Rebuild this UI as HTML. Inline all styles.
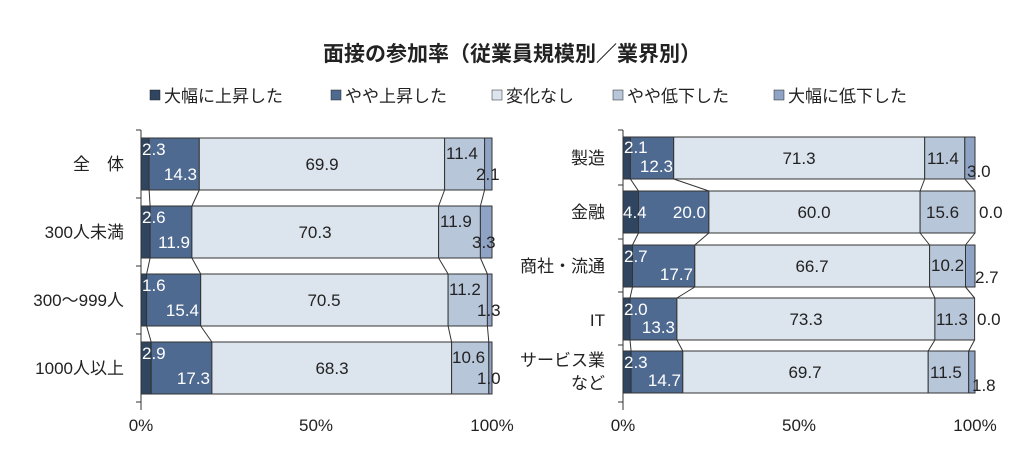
<!DOCTYPE html><html><head><meta charset="utf-8"><style>body{margin:0;background:#fff}svg{display:block}text{font-family:"Liberation Sans","Noto Sans CJK JP",sans-serif}</style></head><body>
<svg width="1024" height="458" xmlns="http://www.w3.org/2000/svg">
<text x="512" y="61" font-size="21" font-weight="bold" text-anchor="middle" fill="#222">面接の参加率（従業員規模別／業界別）</text>
<g font-size="17" fill="#222">
<rect x="150" y="90" width="10" height="10" fill="#2f4560" stroke="#222" stroke-width="0.5"/><text x="164" y="102">大幅に上昇した</text>
<rect x="331" y="90" width="10" height="10" fill="#4f6a91" stroke="#222" stroke-width="0.5"/><text x="345" y="102">やや上昇した</text>
<rect x="492" y="90" width="10" height="10" fill="#dce4ee" stroke="#222" stroke-width="0.5"/><text x="506" y="102">変化なし</text>
<rect x="613" y="90" width="10" height="10" fill="#b8c6da" stroke="#222" stroke-width="0.5"/><text x="627" y="102">やや低下した</text>
<rect x="774" y="90" width="10" height="10" fill="#8fa3c4" stroke="#222" stroke-width="0.5"/><text x="788" y="102">大幅に低下した</text>
</g>
<g stroke="#333" stroke-width="1">
<rect x="141" y="138" width="8.1" height="52" fill="#2f4560"/><rect x="149.1" y="138" width="50.2" height="52" fill="#4f6a91"/><rect x="199.3" y="138" width="245.3" height="52" fill="#dce4ee"/><rect x="444.6" y="138" width="40" height="52" fill="#b8c6da"/><rect x="484.6" y="138" width="7.4" height="52" fill="#8fa3c4"/>
<rect x="141" y="206" width="9.1" height="52" fill="#2f4560"/><rect x="150.1" y="206" width="41.8" height="52" fill="#4f6a91"/><rect x="191.9" y="206" width="246.7" height="52" fill="#dce4ee"/><rect x="438.6" y="206" width="41.8" height="52" fill="#b8c6da"/><rect x="480.4" y="206" width="11.6" height="52" fill="#8fa3c4"/>
<rect x="141" y="274" width="5.6" height="52" fill="#2f4560"/><rect x="146.6" y="274" width="54.1" height="52" fill="#4f6a91"/><rect x="200.7" y="274" width="247.4" height="52" fill="#dce4ee"/><rect x="448.1" y="274" width="39.3" height="52" fill="#b8c6da"/><rect x="487.4" y="274" width="4.6" height="52" fill="#8fa3c4"/>
<rect x="141" y="342" width="10.2" height="52" fill="#2f4560"/><rect x="151.2" y="342" width="60.7" height="52" fill="#4f6a91"/><rect x="211.9" y="342" width="239.7" height="52" fill="#dce4ee"/><rect x="451.6" y="342" width="37.2" height="52" fill="#b8c6da"/><rect x="488.8" y="342" width="3.2" height="52" fill="#8fa3c4"/>
<path fill="none" d="M149.1 190L150.1 206M199.3 190L191.9 206M444.6 190L438.6 206M484.6 190L480.4 206M150.1 258L146.6 274M191.9 258L200.7 274M438.6 258L448.1 274M480.4 258L487.4 274M146.6 326L151.2 342M200.7 326L211.9 342M448.1 326L451.6 342M487.4 326L488.8 342"/>
<path fill="none" d="M141 130V410M136 130H141M136 198H141M136 266H141M136 334H141M136 402H141M141 402V410"/>
<rect x="623" y="137" width="7.4" height="42" fill="#2f4560"/><rect x="630.4" y="137" width="43.3" height="42" fill="#4f6a91"/><rect x="673.7" y="137" width="251" height="42" fill="#dce4ee"/><rect x="924.7" y="137" width="40.1" height="42" fill="#b8c6da"/><rect x="964.8" y="137" width="10.2" height="42" fill="#8fa3c4"/>
<rect x="623" y="191" width="15.5" height="42" fill="#2f4560"/><rect x="638.5" y="191" width="70.4" height="42" fill="#4f6a91"/><rect x="708.9" y="191" width="211.2" height="42" fill="#dce4ee"/><rect x="920.1" y="191" width="54.9" height="42" fill="#b8c6da"/>
<rect x="623" y="245" width="9.5" height="42" fill="#2f4560"/><rect x="632.5" y="245" width="62.3" height="42" fill="#4f6a91"/><rect x="694.8" y="245" width="234.8" height="42" fill="#dce4ee"/><rect x="929.6" y="245" width="35.9" height="42" fill="#b8c6da"/><rect x="965.5" y="245" width="9.5" height="42" fill="#8fa3c4"/>
<rect x="623" y="298" width="7" height="42" fill="#2f4560"/><rect x="630" y="298" width="46.9" height="42" fill="#4f6a91"/><rect x="676.9" y="298" width="258" height="42" fill="#dce4ee"/><rect x="934.9" y="298" width="39.7" height="42" fill="#b8c6da"/>
<rect x="623" y="351" width="8.1" height="42" fill="#2f4560"/><rect x="631.1" y="351" width="51.7" height="42" fill="#4f6a91"/><rect x="682.8" y="351" width="245.4" height="42" fill="#dce4ee"/><rect x="928.2" y="351" width="40.5" height="42" fill="#b8c6da"/><rect x="968.7" y="351" width="6.3" height="42" fill="#8fa3c4"/>
<path fill="none" d="M630.4 179L638.5 191M673.7 179L708.9 191M924.7 179L920.1 191M964.8 179L975 191M638.5 233L632.5 245M708.9 233L694.8 245M920.1 233L929.6 245M975 233L965.5 245M632.5 287L630 298M694.8 287L676.9 298M929.6 287L934.9 298M965.5 287L974.6 298M630 340L631.1 351M676.9 340L682.8 351M934.9 340L928.2 351M974.6 340L968.7 351"/>
<path fill="none" d="M623 130V410M618 130H623M618 185H623M618 239H623M618 292H623M618 345H623M618 402H623"/>
</g>
<g font-size="17" fill="#fff">
<text x="142" y="155">2.3</text><text x="197" y="180" text-anchor="end">14.3</text>
<text x="142" y="223">2.6</text><text x="190" y="248" text-anchor="end">11.9</text>
<text x="142" y="291">1.6</text><text x="199" y="316" text-anchor="end">15.4</text>
<text x="142" y="359">2.9</text><text x="210" y="384" text-anchor="end">17.3</text>
<text x="624" y="153">2.1</text><text x="673" y="172" text-anchor="end">12.3</text>
<text x="623" y="218">4.4</text><text x="706" y="218" text-anchor="end">20.0</text>
<text x="624" y="262">2.7</text><text x="693" y="280" text-anchor="end">17.7</text>
<text x="624" y="315">2.0</text><text x="675" y="333" text-anchor="end">13.3</text>
<text x="624" y="368">2.3</text><text x="681" y="386" text-anchor="end">14.7</text>
</g>
<g font-size="17" fill="#222">
<text x="322" y="170" text-anchor="middle">69.9</text><text x="315" y="238" text-anchor="middle">70.3</text><text x="324" y="306" text-anchor="middle">70.5</text><text x="332" y="374" text-anchor="middle">68.3</text>
<text x="446" y="159">11.4</text><text x="476" y="180">2.1</text>
<text x="440" y="227">11.9</text><text x="472" y="248">3.3</text>
<text x="449" y="295">11.2</text><text x="477" y="316">1.3</text>
<text x="452" y="363">10.6</text><text x="477" y="384">1.0</text>
<text x="799" y="164" text-anchor="middle">71.3</text><text x="814" y="218" text-anchor="middle">60.0</text><text x="812" y="272" text-anchor="middle">66.7</text><text x="806" y="325" text-anchor="middle">73.3</text><text x="805" y="378" text-anchor="middle">69.7</text>
<text x="927" y="164">11.4</text><text x="967" y="177">3.0</text>
<text x="926" y="218">15.6</text><text x="979" y="218">0.0</text>
<text x="931" y="271">10.2</text><text x="975" y="283">2.7</text>
<text x="936" y="325">11.3</text><text x="977" y="325">0.0</text>
<text x="930" y="378">11.5</text><text x="972" y="391">1.8</text>
<text x="141" y="431" text-anchor="middle">0%</text><text x="316" y="431" text-anchor="middle">50%</text><text x="492" y="431" text-anchor="middle">100%</text>
<text x="623" y="431" text-anchor="middle">0%</text><text x="799" y="431" text-anchor="middle">50%</text><text x="975" y="431" text-anchor="middle">100%</text>
<text x="124" y="170" text-anchor="end">全　体</text><text x="124" y="238" text-anchor="end">300人未満</text><text x="124" y="306" text-anchor="end">300～999人</text><text x="124" y="374" text-anchor="end">1000人以上</text>
<text x="605" y="164" text-anchor="end">製造</text><text x="605" y="218" text-anchor="end">金融</text><text x="605" y="272" text-anchor="end">商社・流通</text><text x="605" y="326" text-anchor="end">IT</text><text x="605" y="366" text-anchor="end">サービス業</text><text x="605" y="389" text-anchor="end">など</text>
</g>
</svg></body></html>
